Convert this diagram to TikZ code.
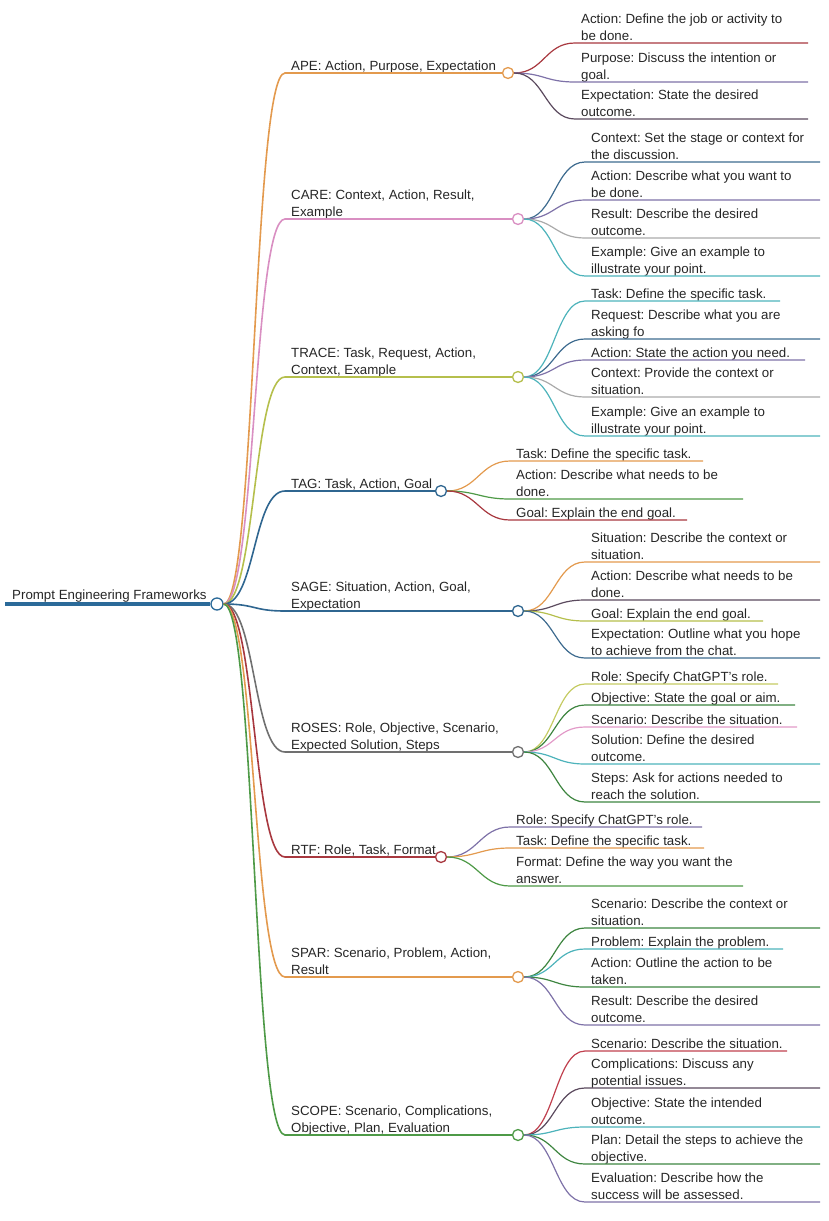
\documentclass[tikz,border=0pt]{standalone}
\usepackage{fontspec}
\setmainfont{Liberation Sans}
\frenchspacing
\definecolor{corange}{HTML}{E39A4E}
\definecolor{cpink}{HTML}{D98FC2}
\definecolor{colive}{HTML}{B5BF4C}
\definecolor{cnavy}{HTML}{2F6690}
\definecolor{cgray}{HTML}{707070}
\definecolor{cred}{HTML}{A8383F}
\definecolor{cgreen}{HTML}{4E9A47}
\definecolor{cdgreen}{HTML}{3E8540}
\definecolor{cpurple}{HTML}{7E72A8}
\definecolor{cmauve}{HTML}{5B4A5E}
\definecolor{cteal}{HTML}{4DB3BB}
\definecolor{clgray}{HTML}{AAAAAA}
\definecolor{cslate}{HTML}{3E6B8F}
\definecolor{cyellow}{HTML}{C5CB62}
\definecolor{clpink}{HTML}{E29AC8}
\definecolor{cbrick}{HTML}{C0404E}
\definecolor{croot}{HTML}{2B6A99}
\begin{document}
\begin{tikzpicture}[x=1pt,y=-1pt,
  txt/.style={font=\fontsize{13.3}{17}\selectfont, text=black!85, inner sep=0pt, text depth=3pt, align=left, anchor=south west},
  knob/.style={circle, draw=#1, fill=white, line width=1.3pt, minimum size=11pt, inner sep=0pt},
  lvlone/.style={draw=#1, line width=1.6pt},
  lvltwo/.style={draw=#1, line width=1.2pt}]
\useasboundingbox (0,0) rectangle (828,1221);

\newcommand{\leafitem}[7]{%
  \coordinate (#2s) at (#3,#4);
  \coordinate (#2e) at (#5,#4);
  \node[txt] (#2) at ([xshift=6pt,yshift=-1pt]#2s) {#7};
  \draw[lvltwo=#6] (#1.east) .. controls +(30,0) and +(-30,0) .. (#2s) -- (#2e);
}
\newcommand{\branchitem}[6]{% parent, name, circle x, y, color, text
  \coordinate (#2s) at (285,#4);
  \node[knob=#5] (#2) at (#3,#4) {};
  \node[txt] (#2t) at ([xshift=6pt,yshift=-1pt]#2s) {#6};
  \draw[lvlone=#5] (#1.east) .. controls +(32,0) and +(-32,0) .. (#2s) -- (#2.west);
}

% root
\coordinate (rootstart) at (5,604);
\node[knob=croot, minimum size=12pt] (root) at (217,604) {};
\node[txt] (roott) at (12,603) {Prompt Engineering Frameworks};
\draw[croot, line width=3.5pt] (rootstart) -- (root.west);

% level one
\branchitem{root}{ape}{508}{73}{corange}{APE: Action, Purpose, Expectation}
\branchitem{root}{care}{518}{219}{cpink}{CARE: Context, Action, Result,\\Example}
\branchitem{root}{trace}{518}{377}{colive}{TRACE: Task, Request, Action,\\Context, Example}
\branchitem{root}{tag}{441}{491}{cnavy}{TAG: Task, Action, Goal}
\branchitem{root}{sage}{518}{611}{cnavy}{SAGE: Situation, Action, Goal,\\Expectation}
\branchitem{root}{roses}{518}{752}{cgray}{ROSES: Role, Objective, Scenario,\\Expected Solution, Steps}
\branchitem{root}{rtf}{441}{857}{cred}{RTF: Role, Task, Format}
\branchitem{root}{spar}{518}{977}{corange}{SPAR: Scenario, Problem, Action,\\Result}
\branchitem{root}{scope}{518}{1135}{cgreen}{SCOPE: Scenario, Complications,\\Objective, Plan, Evaluation}

% APE
\leafitem{ape}{apea}{575}{43}{808}{cred}{Action: Define the job or activity to\\be done.}
\leafitem{ape}{apeb}{575}{82}{808}{cpurple}{Purpose: Discuss the intention or\\goal.}
\leafitem{ape}{apec}{575}{119}{808}{cmauve}{Expectation: State the desired\\outcome.}

% CARE
\leafitem{care}{carea}{585}{162}{820}{cslate}{Context: Set the stage or context for\\the discussion.}
\leafitem{care}{careb}{585}{200}{820}{cpurple}{Action: Describe what you want to\\be done.}
\leafitem{care}{carec}{585}{238}{820}{clgray}{Result: Describe the desired\\outcome.}
\leafitem{care}{cared}{585}{276}{820}{cteal}{Example: Give an example to\\illustrate your point.}

% TRACE
\leafitem{trace}{tracea}{585}{301}{780}{cteal}{Task: Define the specific task.}
\leafitem{trace}{traceb}{585}{339}{820}{cslate}{Request: Describe what you are\\asking fo}
\leafitem{trace}{tracec}{585}{360}{805}{cpurple}{Action: State the action you need.}
\leafitem{trace}{traced}{585}{397}{820}{clgray}{Context: Provide the context or\\situation.}
\leafitem{trace}{tracee}{585}{436}{820}{cteal}{Example: Give an example to\\illustrate your point.}

% TAG
\leafitem{tag}{taga}{510}{461}{703}{corange}{Task: Define the specific task.}
\leafitem{tag}{tagb}{510}{499}{743}{cgreen}{Action: Describe what needs to be\\done.}
\leafitem{tag}{tagc}{510}{520}{687}{cred}{Goal: Explain the end goal.}

% SAGE
\leafitem{sage}{sagea}{585}{562}{820}{corange}{Situation: Describe the context or\\situation.}
\leafitem{sage}{sageb}{585}{600}{820}{cmauve}{Action: Describe what needs to be\\done.}
\leafitem{sage}{sagec}{585}{621}{763}{colive}{Goal: Explain the end goal.}
\leafitem{sage}{saged}{585}{658}{820}{cslate}{Expectation: Outline what you hope\\to achieve from the chat.}

% ROSES
\leafitem{roses}{rosesa}{585}{684}{778}{cyellow}{Role: Specify ChatGPT's role.}
\leafitem{roses}{rosesb}{585}{705}{795}{cdgreen}{Objective: State the goal or aim.}
\leafitem{roses}{rosesc}{585}{727}{797}{clpink}{Scenario: Describe the situation.}
\leafitem{roses}{rosesd}{585}{764}{820}{cteal}{Solution: Define the desired\\outcome.}
\leafitem{roses}{rosese}{585}{802}{820}{cdgreen}{Steps: Ask for actions needed to\\reach the solution.}

% RTF
\leafitem{rtf}{rtfa}{510}{827}{702}{cpurple}{Role: Specify ChatGPT's role.}
\leafitem{rtf}{rtfb}{510}{848}{704}{corange}{Task: Define the specific task.}
\leafitem{rtf}{rtfc}{510}{886}{743}{cgreen}{Format: Define the way you want the\\answer.}

% SPAR
\leafitem{spar}{spara}{585}{928}{820}{cdgreen}{Scenario: Describe the context or\\situation.}
\leafitem{spar}{sparb}{585}{949}{783}{cteal}{Problem: Explain the problem.}
\leafitem{spar}{sparc}{585}{987}{820}{cdgreen}{Action: Outline the action to be\\taken.}
\leafitem{spar}{spard}{585}{1025}{820}{cpurple}{Result: Describe the desired\\outcome.}

% SCOPE
\leafitem{scope}{scopea}{585}{1051}{787}{cbrick}{Scenario: Describe the situation.}
\leafitem{scope}{scopeb}{585}{1088}{820}{cmauve}{Complications: Discuss any\\potential issues.}
\leafitem{scope}{scopec}{585}{1127}{820}{cteal}{Objective: State the intended\\outcome.}
\leafitem{scope}{scoped}{585}{1164}{820}{cdgreen}{Plan: Detail the steps to achieve the\\objective.}
\leafitem{scope}{scopee}{585}{1202}{820}{cpurple}{Evaluation: Describe how the\\success will be assessed.}
\end{tikzpicture}
\end{document}
